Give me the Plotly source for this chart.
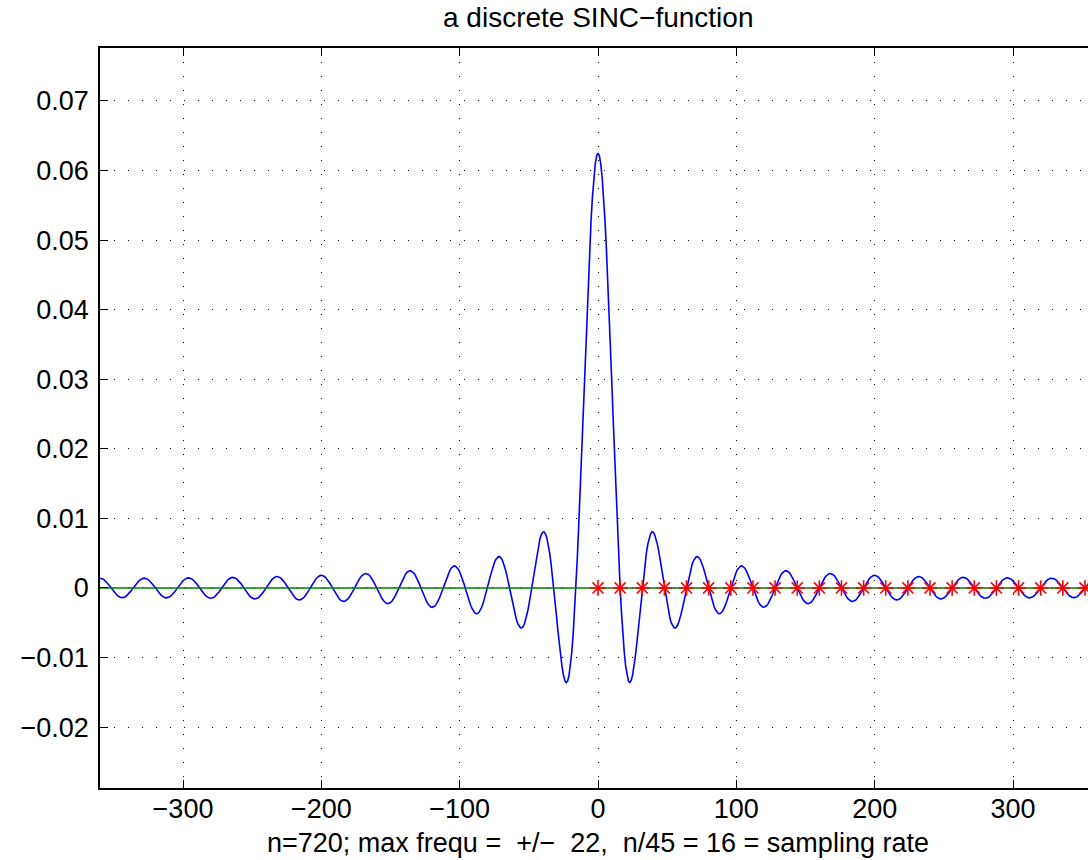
import numpy as np
import plotly.graph_objects as go

# Discrete sinc: sum of unit harmonics -22..22 over an n=720 point period
n_points = 720
max_freq = 22
x_vals = np.arange(-360, 360)
freqs = np.arange(-max_freq, max_freq + 1)
sinc_vals = np.cos(2 * np.pi * np.outer(x_vals, freqs) / n_points).sum(axis=1) / n_points

# Sampling points every n/45 = 16 steps on the positive half
sample_x = [0, 16, 32, 48, 64, 80, 96, 112, 128, 144, 160, 176, 192, 208,
            224, 240, 256, 272, 288, 304, 320, 336, 352]
sample_y = [0.0] * len(sample_x)

x_ticks = [-300, -200, -100, 0, 100, 200, 300]
y_ticks = [-0.02, -0.01, 0, 0.01, 0.02, 0.03, 0.04, 0.05, 0.06, 0.07]

title_text = "a discrete SINC\u2212function"
xlabel_text = "n=720; max frequ =  +/\u2212  22,  n/45 = 16 = sampling rate"

FONT = "Liberation Sans, Arial, Helvetica, sans-serif"

fig = go.Figure()
fig.add_trace(go.Scatter(x=x_vals, y=sinc_vals, mode="lines",
                         line=dict(color="#0000ff", width=1.6), hoverinfo="skip"))
fig.add_trace(go.Scatter(x=x_vals, y=np.zeros(len(x_vals)), mode="lines",
                         line=dict(color="#008000", width=1.6), hoverinfo="skip"))
fig.add_trace(go.Scatter(x=sample_x, y=sample_y, mode="markers",
                         marker=dict(symbol="asterisk-open", size=13, color="#ff0000",
                                     line=dict(color="#ff0000", width=1.6)),
                         hoverinfo="skip"))

grid = dict(showgrid=True, gridcolor="#000000", gridwidth=1, griddash="1px,13px")

fig.update_xaxes(range=[-360, 354.2], tickvals=x_ticks,
                 ticktext=[f"{v:d}".replace("-", "\u2212") for v in x_ticks],
                 ticks="inside", ticklen=8, tickcolor="#000000", tickwidth=1,
                 showline=True, linecolor="#000000", linewidth=1.5, mirror="ticks",
                 zeroline=False, tickfont=dict(family=FONT, size=27, color="#000000"),
                 ticklabelstandoff=-4, **grid)
fig.update_yaxes(range=[-0.02875, 0.0776], tickvals=y_ticks,
                 ticktext=[("0" if v == 0 else f"{v:.2f}".replace("-", "\u2212")) for v in y_ticks],
                 ticks="inside", ticklen=8, tickcolor="#000000", tickwidth=1,
                 showline=True, linecolor="#000000", linewidth=1.5, mirror=False,
                 zeroline=False, tickfont=dict(family=FONT, size=27, color="#000000"),
                 ticklabelstandoff=4, **grid)

fig.add_annotation(text=title_text, x=0, xref="x", y=1 + 30 / 740, yref="paper",
                   xanchor="center", yanchor="middle", showarrow=False,
                   font=dict(family=FONT, size=28, color="#000000"))
fig.add_annotation(text=xlabel_text, x=0, xref="x", y=-55 / 740, yref="paper",
                   xanchor="center", yanchor="middle", showarrow=False,
                   font=dict(family=FONT, size=27, color="#000000"))

fig.update_layout(width=1088, height=860, showlegend=False,
                  margin=dict(l=100, r=0, t=48, b=72),
                  paper_bgcolor="#ffffff", plot_bgcolor="#ffffff")

fig.write_html("out.html")
